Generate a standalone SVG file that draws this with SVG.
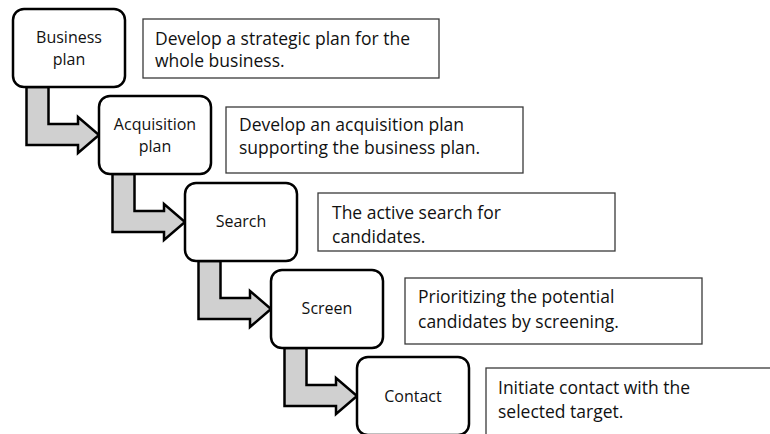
<svg xmlns="http://www.w3.org/2000/svg" xmlns:xlink="http://www.w3.org/1999/xlink" width="770" height="434" viewBox="0 0 770 434">
  <style>
    .step rect { fill: #ffffff; stroke: #000000; stroke-width: 2.5; }
    .step text { font-family: "Open Sans", "Noto Sans", sans-serif; font-size: 16px; fill: #111111; text-anchor: middle; }
    .desc rect { fill: #ffffff; stroke: #3a3a3a; stroke-width: 1.3; }
    .desc text { font-family: "Open Sans", "Noto Sans", sans-serif; font-size: 17.5px; fill: #111111; }
    .bend { fill: #d0d0d0; stroke: #000000; stroke-width: 2.5; stroke-linejoin: miter; }
  </style>
  <defs>
    <!-- bent arrow from the bottom of one step to the left side of the next, relative to the upper step's corner -->
    <path id="bent-arrow" class="bend" d="M13.5,78 H35.5 V115 H65 V108 L86,126 L65,144 V136 H13.5 Z"/>
  </defs>

  <rect width="770" height="434" fill="#ffffff"/>

  <g id="connectors">
    <use xlink:href="#bent-arrow" transform="translate(13,9)"/>
    <use xlink:href="#bent-arrow" transform="translate(99,96)"/>
    <use xlink:href="#bent-arrow" transform="translate(185,183)"/>
    <use xlink:href="#bent-arrow" transform="translate(271,270)"/>
  </g>

  <g id="business-plan" class="step">
    <rect x="13" y="9" width="112" height="78" rx="11"/>
    <text x="69" y="42.5">Business</text>
    <text x="69" y="64.5">plan</text>
  </g>
  <g id="acquisition-plan" class="step">
    <rect x="99" y="96" width="112" height="78" rx="11"/>
    <text x="155" y="129.5">Acquisition</text>
    <text x="155" y="151.5">plan</text>
  </g>
  <g id="search" class="step">
    <rect x="185" y="183" width="112" height="78" rx="11"/>
    <text x="241" y="227">Search</text>
  </g>
  <g id="screen" class="step">
    <rect x="271" y="270" width="112" height="78" rx="11"/>
    <text x="327" y="314">Screen</text>
  </g>
  <g id="contact" class="step">
    <rect x="357" y="357" width="112" height="78" rx="11"/>
    <text x="413" y="401.5">Contact</text>
  </g>

  <g id="business-plan-note" class="desc">
    <rect x="143" y="19" width="296" height="59"/>
    <text x="155" y="45">Develop a strategic plan for the</text>
    <text x="155" y="67">whole business.</text>
  </g>
  <g id="acquisition-plan-note" class="desc">
    <rect x="226" y="107" width="297" height="66"/>
    <text x="239" y="131">Develop an acquisition plan</text>
    <text x="239" y="154">supporting the business plan.</text>
  </g>
  <g id="search-note" class="desc">
    <rect x="318" y="193" width="297" height="58"/>
    <text x="332" y="219">The active search for</text>
    <text x="332" y="243">candidates.</text>
  </g>
  <g id="screen-note" class="desc">
    <rect x="405" y="278" width="297" height="66"/>
    <text x="418" y="303">Prioritizing the potential</text>
    <text x="418" y="328">candidates by screening.</text>
  </g>
  <g id="contact-note" class="desc">
    <rect x="486" y="368" width="300" height="80"/>
    <text x="498" y="394">Initiate contact with the</text>
    <text x="498" y="418">selected target.</text>
  </g>
</svg>
